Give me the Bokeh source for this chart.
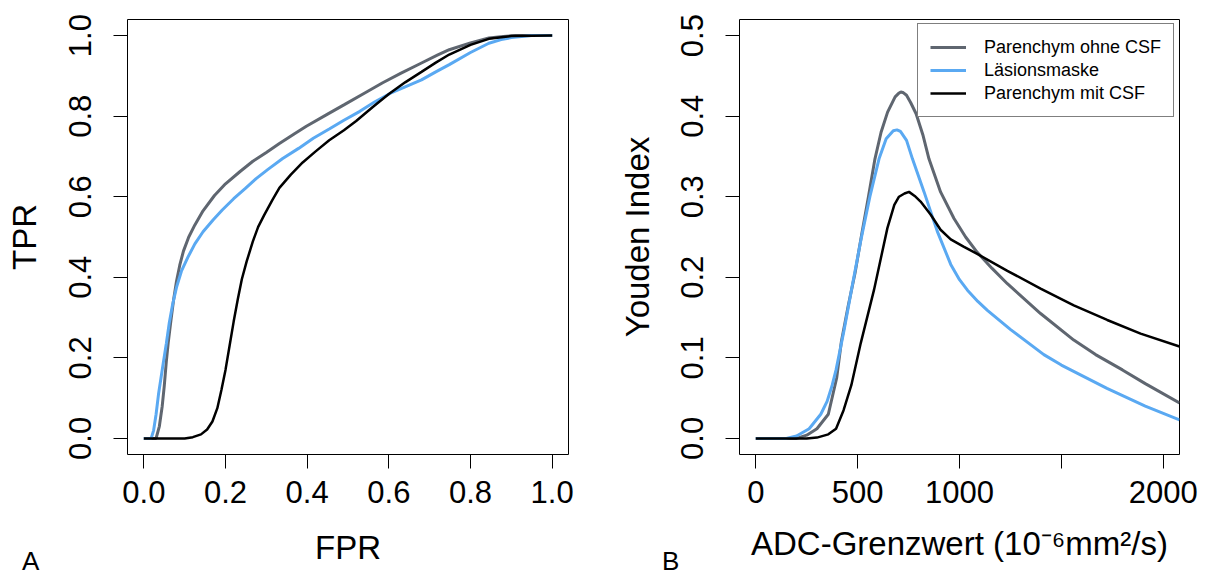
from bokeh.plotting import figure
from bokeh.layouts import row
from bokeh.models import FixedTicker, NumeralTickFormatter, Legend, LegendItem, Range1d, Div
from bokeh.embed import file_html
from bokeh.resources import INLINE

# ---------------- data: ROC curves (panel A) ----------------
roc_gray_fpr = [0.0, 0.03, 0.038, 0.045, 0.05, 0.055, 0.06, 0.066, 0.073, 0.08, 0.088, 0.097, 0.11,
                0.125, 0.145, 0.173, 0.2, 0.235, 0.267, 0.3, 0.332, 0.37, 0.398, 0.45, 0.49, 0.54,
                0.585, 0.63, 0.68, 0.72, 0.748, 0.8, 0.845, 0.88, 0.91, 1.0]
roc_gray_tpr = [0.0, 0.0, 0.03, 0.08, 0.13, 0.19, 0.24, 0.29, 0.345, 0.39, 0.43, 0.465, 0.50,
                0.53, 0.565, 0.603, 0.632, 0.662, 0.688, 0.71, 0.732, 0.757, 0.775, 0.805, 0.828, 0.857,
                0.883, 0.907, 0.932, 0.952, 0.965, 0.982, 0.994, 0.998, 1.0, 1.0]

roc_blue_fpr = [0.0, 0.018, 0.024, 0.03, 0.036, 0.042, 0.048, 0.055, 0.062, 0.07, 0.08, 0.092, 0.108,
                0.125, 0.145, 0.17, 0.192, 0.22, 0.248, 0.275, 0.304, 0.34, 0.379, 0.415, 0.454, 0.49,
                0.529, 0.565, 0.604, 0.64, 0.68, 0.715, 0.748, 0.8, 0.845, 0.875, 0.9, 0.95, 1.0]
roc_blue_tpr = [0.0, 0.0, 0.02, 0.06, 0.11, 0.15, 0.19, 0.235, 0.285, 0.33, 0.375, 0.415, 0.45,
                0.483, 0.513, 0.543, 0.567, 0.595, 0.62, 0.645, 0.668, 0.695, 0.72, 0.745, 0.768, 0.79,
                0.812, 0.835, 0.857, 0.873, 0.89, 0.91, 0.928, 0.958, 0.981, 0.99, 0.995, 1.0, 1.0]

roc_black_fpr = [0.0, 0.1, 0.12, 0.14, 0.155, 0.168, 0.18, 0.19, 0.2, 0.21, 0.22, 0.23, 0.24, 0.252,
                 0.267, 0.28, 0.295, 0.315, 0.332, 0.36, 0.389, 0.42, 0.454, 0.49, 0.52, 0.56, 0.6,
                 0.64, 0.68, 0.715, 0.748, 0.8, 0.845, 0.9, 1.0]
roc_black_tpr = [0.0, 0.0, 0.003, 0.01, 0.022, 0.042, 0.075, 0.12, 0.17, 0.23, 0.29, 0.345, 0.395, 0.44,
                 0.489, 0.525, 0.555, 0.592, 0.622, 0.655, 0.685, 0.712, 0.74, 0.765, 0.788, 0.822, 0.855,
                 0.884, 0.91, 0.933, 0.953, 0.977, 0.992, 0.999, 1.0]

# ---------------- data: Youden index (panel B) ----------------
adc_gray = [0, 200, 250, 300, 356, 397, 420, 454, 487, 521, 553, 585, 615, 647, 684, 700, 712, 725,
            740, 760, 787, 820, 850, 907, 973, 1030, 1087, 1160, 1235, 1398, 1561, 1668, 1800, 1912, 2080]
youden_gray = [0.0, 0.0, 0.004, 0.012, 0.030, 0.075, 0.12, 0.165, 0.205, 0.255, 0.30, 0.347, 0.38,
               0.405, 0.424, 0.428, 0.430, 0.429, 0.426, 0.417, 0.403, 0.377, 0.347, 0.306, 0.273,
               0.250, 0.231, 0.211, 0.192, 0.155, 0.122, 0.104, 0.085, 0.068, 0.044]

adc_blue = [0, 150, 200, 262, 319, 350, 375, 394, 433, 474, 515, 560, 605, 640, 675, 693, 710, 740,
            769, 826, 891, 957, 1000, 1039, 1090, 1137, 1251, 1414, 1500, 1724, 1912, 2080]
youden_blue = [0.0, 0.0, 0.003, 0.012, 0.030, 0.046, 0.066, 0.085, 0.134, 0.19, 0.245, 0.30, 0.347,
               0.372, 0.382, 0.383, 0.381, 0.370, 0.347, 0.306, 0.257, 0.216, 0.197, 0.184, 0.170,
               0.159, 0.135, 0.104, 0.091, 0.062, 0.040, 0.023]

adc_black = [0, 250, 300, 356, 394, 431, 469, 515, 580, 646, 680, 703, 730, 752, 780, 809, 858, 907,
             957, 1020, 1087, 1235, 1398, 1561, 1725, 1889, 2080]
youden_black = [0.0, 0.0, 0.001, 0.005, 0.012, 0.035, 0.066, 0.118, 0.184, 0.261, 0.290, 0.300, 0.304,
                0.306, 0.301, 0.294, 0.278, 0.259, 0.247, 0.238, 0.229, 0.208, 0.186, 0.165, 0.147,
                0.130, 0.114]

series_names = ["Parenchym ohne CSF", "Läsionsmaske", "Parenchym mit CSF"]
panel_letters = ["A", "B"]
roc_ticks = [0.0, 0.2, 0.4, 0.6, 0.8, 1.0]
youden_ticks = [0.0, 0.1, 0.2, 0.3, 0.4, 0.5]
adc_ticks = [0, 500, 1000, 1500, 2000]

GRAY = "#5f6670"
BLUE = "#5aa9f2"
BLACK = "#000000"
FONT = "Liberation Sans"


def style(p, xtitle_standoff, ytitle_standoff):
    p.outline_line_color = "black"
    p.outline_line_width = 1
    p.outline_line_alpha = 1
    p.xgrid.visible = False
    p.ygrid.visible = False
    for ax in (p.xaxis[0], p.yaxis[0]):
        ax.axis_line_color = None
        ax.major_tick_out = 14
        ax.major_tick_in = 0
        ax.major_tick_line_color = "black"
        ax.major_tick_line_width = 1
        ax.minor_tick_line_color = None
        ax.major_label_text_font = FONT
        ax.major_label_text_font_size = "31px"
        ax.major_label_text_color = "black"
        ax.axis_label_text_font = FONT
        ax.axis_label_text_font_size = "33px"
        ax.axis_label_text_font_style = "normal"
        ax.axis_label_text_color = "black"
    p.xaxis[0].major_label_standoff = 12
    p.xaxis[0].axis_label_standoff = xtitle_standoff
    p.yaxis[0].major_label_standoff = 22
    p.yaxis[0].axis_label_standoff = ytitle_standoff
    p.yaxis[0].major_label_orientation = "parallel"


# ---------------- panel A ----------------
p1 = figure(width=605, height=576, output_backend="svg", toolbar_location=None,
            x_range=Range1d(-0.04, 1.04), y_range=Range1d(-0.04, 1.04),
            min_border_left=127, min_border_right=37, min_border_top=14, min_border_bottom=122,
            x_axis_label="FPR", y_axis_label="TPR")
style(p1, 23, 24)
p1.xaxis[0].ticker = FixedTicker(ticks=roc_ticks)
p1.yaxis[0].ticker = FixedTicker(ticks=roc_ticks)
p1.xaxis[0].formatter = NumeralTickFormatter(format="0.0")
p1.yaxis[0].formatter = NumeralTickFormatter(format="0.0")

p1.line(roc_gray_fpr, roc_gray_tpr, line_color=GRAY, line_width=3)
p1.line(roc_blue_fpr, roc_blue_tpr, line_color=BLUE, line_width=3)
p1.line(roc_black_fpr, roc_black_tpr, line_color=BLACK, line_width=2.5)

# ---------------- panel B ----------------
p2 = figure(width=605, height=576, output_backend="svg", toolbar_location=None,
            x_range=Range1d(-80, 2080), y_range=Range1d(-0.02, 0.52),
            min_border_left=134, min_border_right=31, min_border_top=19, min_border_bottom=117,
            x_axis_label="ADC-Grenzwert (10⁻⁶mm²/s)", y_axis_label="Youden Index")
style(p2, 19, 23)
p2.xaxis[0].ticker = FixedTicker(ticks=adc_ticks)
p2.xaxis[0].major_label_overrides = {1500: ""}
p2.yaxis[0].ticker = FixedTicker(ticks=youden_ticks)
p2.yaxis[0].formatter = NumeralTickFormatter(format="0.0")

r_gray = p2.line(adc_gray, youden_gray, line_color=GRAY, line_width=3)
r_blue = p2.line(adc_blue, youden_blue, line_color=BLUE, line_width=3)
r_black = p2.line(adc_black, youden_black, line_color=BLACK, line_width=2.5)

legend = Legend(items=[LegendItem(label=series_names[0], renderers=[r_gray]),
                       LegendItem(label=series_names[1], renderers=[r_blue]),
                       LegendItem(label=series_names[2], renderers=[r_black])],
                location=(178, 337), orientation="vertical",
                label_text_font=FONT, label_text_font_size="18px", label_text_color="black",
                glyph_width=36, glyph_height=22, label_height=22, spacing=1,
                label_standoff=18, padding=12, margin=0,
                border_line_color="black", border_line_width=1,
                background_fill_color="white", background_fill_alpha=1)
p2.add_layout(legend, "center")


def letter(text, left, top):
    html = (f"<span style=\"font-family:'{FONT}' !important; font-size:26px !important; "
            f"line-height:29px; color:black;\">{text}</span>")
    return Div(text=html, width=26, height=29,
               styles={"position": "absolute", "left": f"{left}px", "top": f"{top}px",
                       "margin": "0", "padding": "0", "line-height": "29px",
                       "font-size": "26px", "overflow": "visible"},
               stylesheets=[":host { font-size: 26px; line-height: 29px; }"])


divA = letter(panel_letters[0], 22, 547)
divB = letter(panel_letters[1], 662, 547)

layout = row(p1, p2, divA, divB, spacing=0)
open("out.html", "w").write(file_html(layout, INLINE))
